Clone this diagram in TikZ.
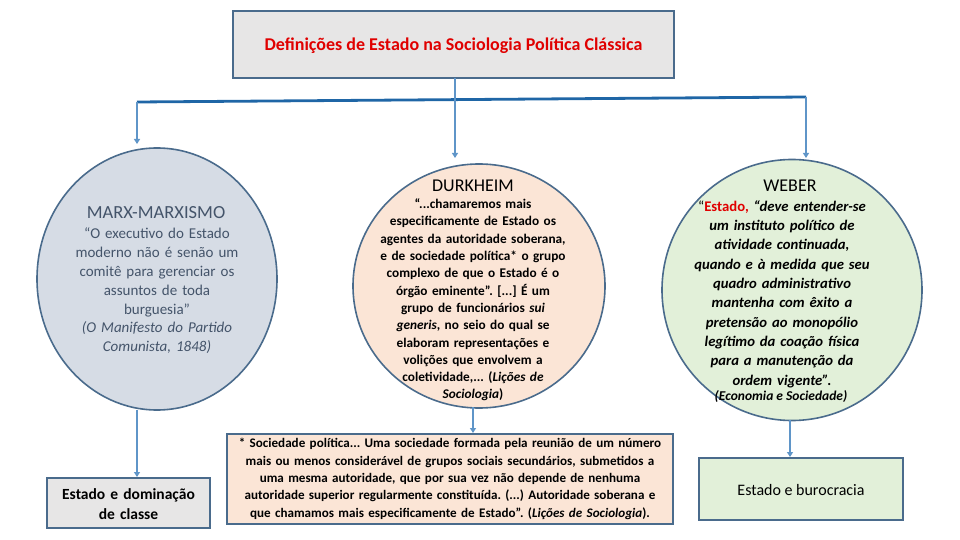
\documentclass[tikz,border=0pt]{standalone}
\usepackage{fontspec}
\setmainfont{Carlito}
\frenchspacing
\usetikzlibrary{shapes.geometric,arrows.meta}
\definecolor{bordc}{HTML}{4A6B8C}
\definecolor{arrc}{HTML}{5F95C8}
\definecolor{barc}{HTML}{1F66A6}
\definecolor{grayf}{HTML}{E7E6E6}
\definecolor{bluef}{HTML}{D6DCE5}
\definecolor{peachf}{HTML}{FBE5D6}
\definecolor{greenf}{HTML}{E2F0D9}
\definecolor{slate}{HTML}{44546A}
\definecolor{titred}{HTML}{E00000}
\tikzset{
  oval/.style={ellipse, draw=bordc, line width=1.6pt, inner sep=0pt},
  rbox/.style={rectangle, draw=bordc, line width=1.6pt, inner sep=0pt},
  conn/.style={draw=arrc, line width=1.8pt, -{Triangle[width=6pt,length=5pt]}},
  bar/.style={draw=barc, line width=2.8pt},
  txt/.style={align=center, inner sep=0pt},
}
\begin{document}
\begin{tikzpicture}[x=1pt,y=-1pt]
\useasboundingbox (0,0) rectangle (960,540);
% title
\node[rbox, fill=grayf, minimum width=441pt, minimum height=67pt] (title) at (453.5,44.5) {};
\node[txt, text=titred, font=\fontsize{18}{20}\selectfont\bfseries] (titletxt) at (453.5,46) {Definições de Estado na Sociologia Política Clássica};
% ellipses
\node[oval, fill=bluef, minimum width=240pt, minimum height=262pt] (marx) at (157,279) {};
\node[oval, fill=peachf, minimum width=252pt, minimum height=244pt] (durk) at (479,286) {};
\node[oval, fill=greenf, minimum width=260pt, minimum height=261pt] (weber) at (792,290) {};
% boxes
\node[rbox, fill=grayf, minimum width=163pt, minimum height=50pt] (dom) at (128.5,503) {};
\node[rbox, fill=peachf, minimum width=446pt, minimum height=90pt] (foot) at (450,479) {};
\node[rbox, fill=greenf, minimum width=204pt, minimum height=62pt] (buro) at (801,489) {};
% connectors
\coordinate (tb) at (455,78);
\coordinate (bl) at (137,102);
\coordinate (br) at (806,97);
\coordinate (mtip) at (455,158);
\coordinate (ltip) at (137,144);
\coordinate (rtip) at (806,158);
\draw[bar] (bl) -- (br);
\draw[conn] (tb) -- (mtip);
\draw[conn] (bl) -- (ltip);
\draw[conn] (br) -- (rtip);
\coordinate (mb) at (137,410);
\coordinate (mbt) at (137,477);
\draw[conn] (mb) -- (mbt);
\coordinate (db) at (473,407);
\coordinate (dbt) at (473,433);
\draw[conn] (db) -- (dbt);
\coordinate (wb) at (790,420);
\coordinate (wbt) at (790,457);
\draw[conn] (wb) -- (wbt);
% marx text
\node[txt, text=slate, font=\fontsize{18.5}{20}\selectfont] (marxh) at (156,213) {MARX-MARXISMO};
\node[txt, text=slate, text width=230pt, font=\fontsize{15}{18.8}\selectfont] (marxt) at (157,291) {“O executivo do Estado\\moderno não é senão um\\comitê para gerenciar os\\assuntos de toda\\burguesia”\\\textit{(O Manifesto do Partido}\\\textit{Comunista, 1848)}};
% durkheim text
\node[txt, font=\fontsize{18}{20}\selectfont] (durkh) at (473,186) {DURKHEIM};
\node[txt, text width=240pt, font=\fontsize{13.3}{17.3}\selectfont\bfseries] (durkt) at (473,300) {“...chamaremos mais\\especificamente de Estado os\\agentes da autoridade soberana,\\e de sociedade política* o grupo\\complexo de que o Estado é o\\órgão eminente”. [...] É um\\grupo de funcionários \textit{sui}\\\textit{generis}, no seio do qual se\\elaboram representações e\\volições que envolvem a\\coletividade,... (\textit{Lições de}\\\textit{Sociologia})};
% weber text
\node[txt, font=\fontsize{18}{20}\selectfont] (weberh) at (790,186) {WEBER};
\node[txt, text width=250pt, font=\fontsize{14.7}{19.3}\selectfont\bfseries\itshape] (webert) at (782,294) {{\upshape\mdseries “}{\upshape\color{titred}Estado,} “deve entender-se\\um instituto político de\\atividade continuada,\\quando e à medida que seu\\quadro administrativo\\mantenha com êxito a\\pretensão ao monopólio\\legítimo da coação física\\para a manutenção da\\ordem vigente”.};
\node[txt, font=\fontsize{13.5}{15}\selectfont\bfseries\itshape] (weberc) at (781,397) {(Economia e Sociedade)};
% box texts
\node[txt, text width=160pt, font=\fontsize{15.5}{20}\selectfont\bfseries] (domt) at (128.5,504) {Estado e dominação\\de classe};
\node[txt, text width=440pt, font=\fontsize{13.1}{17.3}\selectfont\bfseries] (foott) at (450,479) {* Sociedade política... Uma sociedade formada pela reunião de um número\\mais ou menos considerável de grupos sociais secundários, submetidos a\\uma mesma autoridade, que por sua vez não depende de nenhuma\\autoridade superior regularmente constituída. (...) Autoridade soberana e\\que chamamos mais especificamente de Estado”. (\textit{Lições de Sociologia}).};
\node[txt, font=\fontsize{16}{18}\selectfont] (burot) at (801,490) {Estado e burocracia};
\end{tikzpicture}
\end{document}
